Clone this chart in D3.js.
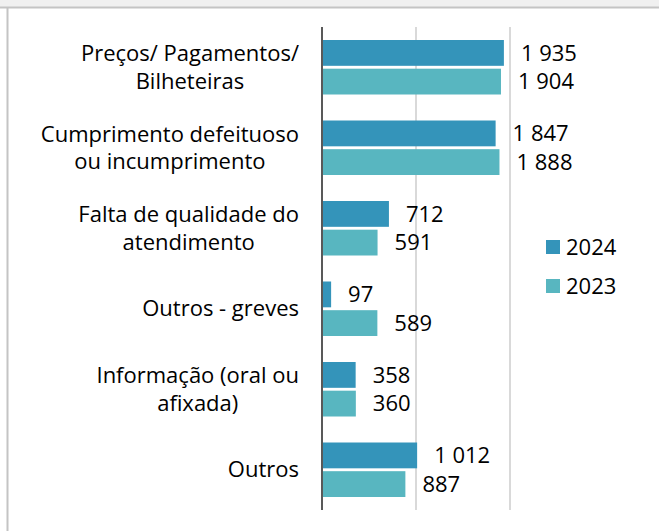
<!DOCTYPE html>
<html>
<head>
<meta charset="utf-8">
<script src="https://cdn.jsdelivr.net/npm/d3@7"></script>
<style>
  body { margin: 0; background: #fff; }
  svg { display: block; }
  text { font-family: "Open Sans", sans-serif; fill: #000; }
</style>
</head>
<body>
<svg id="chart"></svg>
<script>
// categories (wrapped the way the source chart wraps them)
var categories = [
  ["Preços/ Pagamentos/", "Bilheteiras"],
  ["Cumprimento defeituoso", "ou incumprimento"],
  ["Falta de qualidade do", "atendimento"],
  ["Outros - greves"],
  ["Informação (oral ou", "afixada)"],
  ["Outros"]
];
var series = ["2024", "2023"];
var values2024 = [1935, 1847, 712, 97, 358, 1012];
var values2023 = [1904, 1888, 591, 589, 360, 887];
var gridTicks = [1000, 2000];

var width = 659, height = 531;
var fontSize = "22px";
var colors = { "2024": "#3494BA", "2023": "#58B6C0" };

var svg = d3.select("#chart").attr("width", width).attr("height", height);

// frame of the surrounding sheet
svg.append("rect").attr("x", 0).attr("y", 0).attr("width", width).attr("height", 7).attr("fill", "#f0f0f0");
svg.append("line").attr("x1", 0).attr("x2", width).attr("y1", 7.5).attr("y2", 7.5)
  .attr("stroke", "#c4c4c4").attr("stroke-width", 2);
svg.append("line").attr("x1", 7.5).attr("x2", 7.5).attr("y1", 7).attr("y2", height)
  .attr("stroke", "#c4c4c4").attr("stroke-width", 2);

var plotTop = 27, plotBottom = 510;
var x = d3.scaleLinear().domain([0, 2000]).range([322, 510]);
var y = d3.scaleBand().domain(d3.range(categories.length)).range([plotTop, plotBottom])
  .paddingInner(0.323).paddingOuter(0.1615);
var ys = d3.scaleBand().domain(series).range([0, y.bandwidth()]).paddingInner(0.1);

// gridlines
svg.append("g").selectAll("line").data(gridTicks).join("line")
  .attr("x1", d => x(d)).attr("x2", d => x(d))
  .attr("y1", plotTop).attr("y2", plotBottom)
  .attr("stroke", "#d9d9d9").attr("stroke-width", 2);

var rows = categories.map(function (c, i) {
  return { i: i, label: c, vals: [values2024[i], values2023[i]] };
});

var g = svg.append("g").selectAll("g").data(rows).join("g")
  .attr("transform", d => "translate(0," + y(d.i) + ")");

g.selectAll("rect").data(d => d.vals.map((v, k) => ({ s: series[k], v: v }))).join("rect")
  .attr("x", x(0))
  .attr("y", d => ys(d.s))
  .attr("width", d => x(d.v) - x(0))
  .attr("height", ys.bandwidth())
  .attr("fill", d => colors[d.s]);

var fmt = function (v) { return d3.format(",")(v).replace(/,/g, " "); };
g.selectAll("text.val").data(d => d.vals.map((v, k) => ({ s: series[k], v: v }))).join("text")
  .attr("class", "val")
  .attr("x", d => x(d.v) + 17)
  .attr("y", d => ys(d.s) + ys.bandwidth() / 2)
  .attr("dy", "0.35em")
  .style("font-size", fontSize)
  .text(d => fmt(d.v));

// category labels: centred lines, block right-aligned against the axis
var labelRight = 299, lineH = 27.5;
g.each(function (d) {
  var grp = d3.select(this);
  var cy = y.bandwidth() / 2;
  var n = d.label.length;
  var texts = grp.append("g").selectAll("text").data(d.label).join("text")
    .attr("text-anchor", "middle")
    .attr("y", (t, k) => cy + (k - (n - 1) / 2) * lineH)
    .attr("dy", "0.35em")
    .style("font-size", fontSize)
    .text(t => t);
  var maxW = d3.max(texts.nodes(), nd => nd.getComputedTextLength());
  texts.attr("x", labelRight - maxW / 2);
});

// axis line
svg.append("line").attr("x1", x(0)).attr("x2", x(0)).attr("y1", plotTop).attr("y2", plotBottom)
  .attr("stroke", "#595959").attr("stroke-width", 2);

// legend
var legend = svg.append("g").selectAll("g").data(series).join("g")
  .attr("transform", (d, k) => "translate(546," + (247 + k * 39) + ")");
legend.append("rect").attr("x", 0).attr("y", -7).attr("width", 14).attr("height", 14)
  .attr("fill", d => colors[d]);
legend.append("text").attr("x", 20).attr("dy", "0.35em").style("font-size", fontSize).text(d => d);
</script>
</body>
</html>
